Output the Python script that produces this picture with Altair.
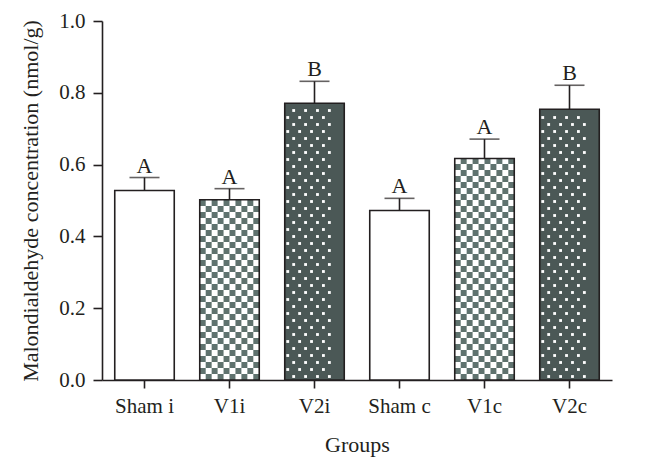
import altair as alt
import pandas as pd

groups = ["Sham i", "V1i", "V2i", "Sham c", "V1c", "V2c"]
means = [0.528, 0.502, 0.771, 0.472, 0.617, 0.754]
uppers = [0.564, 0.533, 0.832, 0.506, 0.671, 0.821]
letters = ["A", "A", "B", "A", "A", "B"]
patterns = ["open", "checker", "dots", "open", "checker", "dots"]

W, H = 510, 359
FONT = "Liberation Serif"
INK = "#231f20"
GREY = "#5f726e"
DARK = "#4b5856"

df = pd.DataFrame({"group": groups, "mean": means, "upper": uppers,
                   "letter": letters, "pattern": patterns})

# decorative fill patterns derived from bar heights
cell = 6.0 / H          # checker cell height in data units
ncols_c = 10
checker_rows = []
dot_rows = []
dstep = 7.0 / H
for g, m, p in zip(groups, means, patterns):
    if p == "checker":
        r = 0
        while r * cell < m - 1e-6:
            for c in range(ncols_c):
                if (r + c) % 2 == 0:
                    checker_rows.append({"group": g, "col": c, "y0": r * cell,
                                         "y1": min((r + 1) * cell, m)})
            r += 1
    elif p == "dots":
        r = 0
        while (r + 0.5) * dstep < m - 2.0 / H:
            for c in range(8):
                if (c + r) % 2 == 1:
                    dot_rows.append({"group": g, "col": c, "y": (r + 0.5) * dstep})
            r += 1
checker_df = pd.DataFrame(checker_rows)
dots_df = pd.DataFrame(dot_rows)

xscale = alt.Scale(domain=groups, paddingInner=0.3, paddingOuter=0.15)
yscale = alt.Scale(domain=[0, 1])

x_enc = alt.X("group:N", scale=xscale, sort=groups,
              axis=alt.Axis(title="Groups", labelAngle=0, tickSize=8,
                            labelPadding=7, titlePadding=18))
y_enc = alt.Y("mean:Q", scale=yscale,
              axis=alt.Axis(title="Malondialdehyde concentration (nmol/g)",
                            values=[0, 0.2, 0.4, 0.6, 0.8, 1.0], format=".1f",
                            tickSize=9, labelPadding=8, titlePadding=16, grid=False))

fill_scale = alt.Scale(domain=["open", "checker", "dots"], range=["white", GREY, DARK])

bars = alt.Chart(df).mark_bar(stroke=None).encode(
    x=x_enc, y=y_enc,
    fill=alt.Fill("pattern:N", scale=fill_scale, legend=None),
)

checker = alt.Chart(checker_df).mark_rect(color="white").encode(
    x=alt.X("group:N", scale=xscale, sort=groups),
    xOffset=alt.XOffset("col:O", scale=alt.Scale(paddingInner=0, paddingOuter=0)),
    y=alt.Y("y0:Q", scale=yscale),
    y2="y1:Q",
)

dots = alt.Chart(dots_df).mark_square(color="white", size=8, opacity=1).encode(
    x=alt.X("group:N", scale=xscale, sort=groups),
    xOffset=alt.XOffset("col:O", scale=alt.Scale(paddingInner=0, paddingOuter=0)),
    y=alt.Y("y:Q", scale=yscale),
)

outline = alt.Chart(df).mark_bar(fill=None, stroke=INK, strokeWidth=1.6).encode(
    x=alt.X("group:N", scale=xscale, sort=groups),
    y=alt.Y("mean:Q", scale=yscale),
)

err = alt.Chart(df).mark_rule(color=INK, strokeWidth=1.6).encode(
    x=alt.X("group:N", scale=xscale, sort=groups),
    y=alt.Y("mean:Q", scale=yscale),
    y2="upper:Q",
)

caps = alt.Chart(df).mark_tick(color=INK, thickness=1.6, size=30).encode(
    x=alt.X("group:N", scale=xscale, sort=groups),
    y=alt.Y("upper:Q", scale=yscale),
)

labels = alt.Chart(df).mark_text(font=FONT, fontSize=22, color=INK,
                                 baseline="alphabetic", dy=-5).encode(
    x=alt.X("group:N", scale=xscale, sort=groups),
    y=alt.Y("upper:Q", scale=yscale),
    text="letter:N",
)

chart = alt.layer(bars, checker, dots, outline, err, caps, labels).properties(
    width=W, height=H,
    padding={"left": 11, "top": 2, "right": 5, "bottom": 5},
).configure_view(stroke=None).configure_axis(
    domainColor=INK, domainWidth=1.6, tickColor=INK, tickWidth=1.6,
    labelFont=FONT, labelFontSize=21, labelColor=INK,
    titleFont=FONT, titleFontSize=22, titleFontWeight="normal", titleColor=INK,
)

chart.save("out.html", embed_options={"renderer": "svg", "actions": False})
